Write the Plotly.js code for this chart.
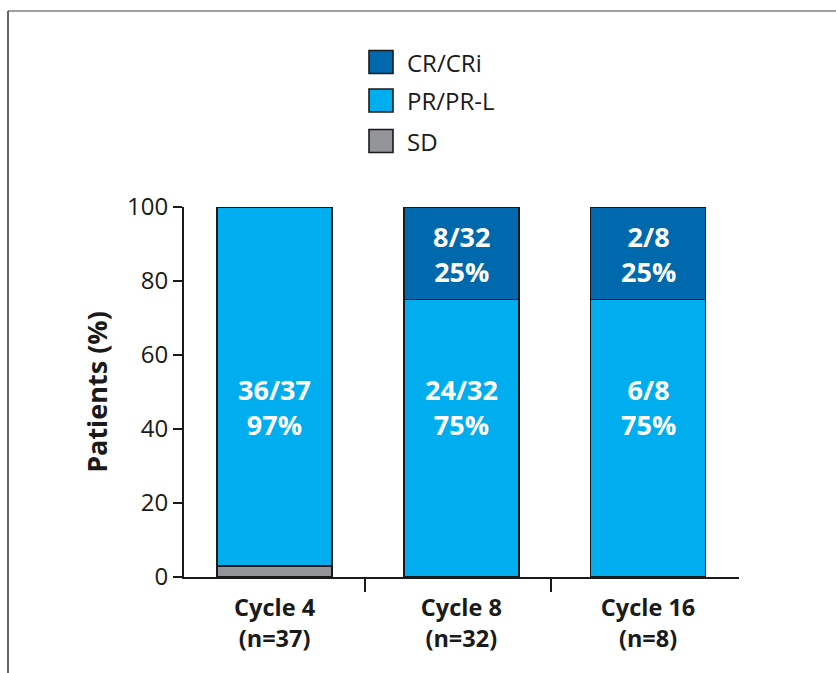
<!DOCTYPE html>
<html>
<head>
<meta charset="utf-8">
<script src="https://cdn.plot.ly/plotly-3.0.1.min.js"></script>
<style>
html,body{margin:0;padding:0;background:#fff;}
#chart{width:836px;height:673px;}
</style>
</head>
<body>
<div id="chart"></div>
<script>
// ---- data ----
var categories = ["Cycle 4<br>(n=37)", "Cycle 8<br>(n=32)", "Cycle 16<br>(n=8)"];
var seriesNames = ["SD", "PR/PR-L", "CR/CRi"];
var sdValues = [3, 0, 0];
var prValues = [97, 75, 75];
var crValues = [0, 25, 25];
var prLabels = ["36/37<br>97%", "24/32<br>75%", "6/8<br>75%"];
var crLabels = ["", "8/32<br>25%", "2/8<br>25%"];
var yTickVals = [0, 20, 40, 60, 80, 100];

// ---- styling ----
var FONT = "Open Sans, Noto Sans, sans-serif";
var colors = {"SD": "#939598", "PR/PR-L": "#00AEEF", "CR/CRi": "#0068AD"};
var W = 836, H = 673;
var M = {l: 184, r: 97, t: 207, b: 96};
var PW = W - M.l - M.r, PH = H - M.t - M.b;
function px2x(px) { return (px - M.l) / PW; }
function px2y(py) { return (H - M.b - py) / PH; }

var valuesBySeries = {"SD": sdValues, "PR/PR-L": prValues, "CR/CRi": crValues};
var traces = seriesNames.map(function (name) {
  return {
    type: "bar",
    name: name,
    x: categories,
    y: valuesBySeries[name],
    width: 0.616,
    marker: {color: colors[name], line: {color: "#1a1a1a", width: 1.8}},
    hoverinfo: "x+y+name",
    showlegend: false
  };
});

var annotations = [];
categories.forEach(function (c, i) {
  if (prLabels[i]) annotations.push({x: c, y: 46, xref: "x", yref: "y", text: prLabels[i], showarrow: false,
    font: {family: FONT, size: 27, color: "#ffffff", weight: "bold"}});
  if (crLabels[i]) annotations.push({x: c, y: 87.3, xref: "x", yref: "y", text: crLabels[i], showarrow: false,
    font: {family: FONT, size: 27, color: "#ffffff", weight: "bold"}});
});

// manual legend (top-down order)
var legendOrder = ["CR/CRi", "PR/PR-L", "SD"];
var legendCenters = [62, 100.5, 141];
var shapes = [];
legendOrder.forEach(function (name, k) {
  var cy = legendCenters[k];
  shapes.push({type: "rect", xref: "paper", yref: "paper",
    x0: px2x(369), x1: px2x(393), y0: px2y(cy + 11.5), y1: px2y(cy - 11.5),
    fillcolor: colors[name], line: {color: "#1a1a1a", width: 1.6}});
  annotations.push({xref: "paper", yref: "paper", x: px2x(405), y: px2y(cy), xanchor: "left", yanchor: "middle",
    text: name, showarrow: false, font: {family: FONT, size: 24, color: "#1a1a1a"}});
});
// frame
shapes.push({type: "line", xref: "paper", yref: "paper", x0: px2x(8), x1: px2x(900), y0: px2y(11), y1: px2y(11),
  line: {color: "#808080", width: 1.5}});
shapes.push({type: "line", xref: "paper", yref: "paper", x0: px2x(8), x1: px2x(8), y0: px2y(11), y1: px2y(700),
  line: {color: "#333333", width: 1.5}});

var layout = {
  width: W, height: H,
  margin: M,
  paper_bgcolor: "#ffffff", plot_bgcolor: "#ffffff",
  barmode: "stack",
  bargap: 0.38,
  showlegend: false,
  font: {family: FONT, color: "#1a1a1a"},
  xaxis: {
    type: "category",
    range: [-0.485, 2.487],
    showline: true, linecolor: "#1a1a1a", linewidth: 2,
    ticks: "", showgrid: false, zeroline: false,
    ticklabelstandoff: 9,
    tickfont: {family: FONT, size: 23.5, color: "#1a1a1a", weight: "bold"},
    fixedrange: true
  },
  xaxis2: {
    overlaying: "x", type: "linear", side: "bottom",
    range: [-0.485, 2.487],
    tickvals: [0.485, 1.48], ticks: "outside", ticklen: 14, tickwidth: 2, tickcolor: "#1a1a1a",
    showticklabels: false, showgrid: false, zeroline: false, showline: false
  },
  yaxis: {
    range: [0, 100],
    tickvals: yTickVals,
    ticks: "outside", ticklen: 9, tickwidth: 2, tickcolor: "#1a1a1a",
    showline: true, linecolor: "#1a1a1a", linewidth: 2,
    showgrid: false, zeroline: false,
    tickfont: {family: FONT, size: 24, color: "#1a1a1a"},
    title: {text: "Patients (%)", standoff: 12, font: {family: FONT, size: 27, color: "#1a1a1a", weight: "bold"}},
    fixedrange: true
  },
  annotations: annotations,
  shapes: shapes
};

// invisible trace to activate xaxis2 (used only for the separator ticks)
traces.push({type: "scatter", x: [0], y: [0], xaxis: "x2", yaxis: "y", mode: "markers",
  marker: {opacity: 0}, hoverinfo: "skip", showlegend: false});

Plotly.newPlot("chart", traces, layout, {displayModeBar: false, staticPlot: true});
</script>
</body>
</html>
